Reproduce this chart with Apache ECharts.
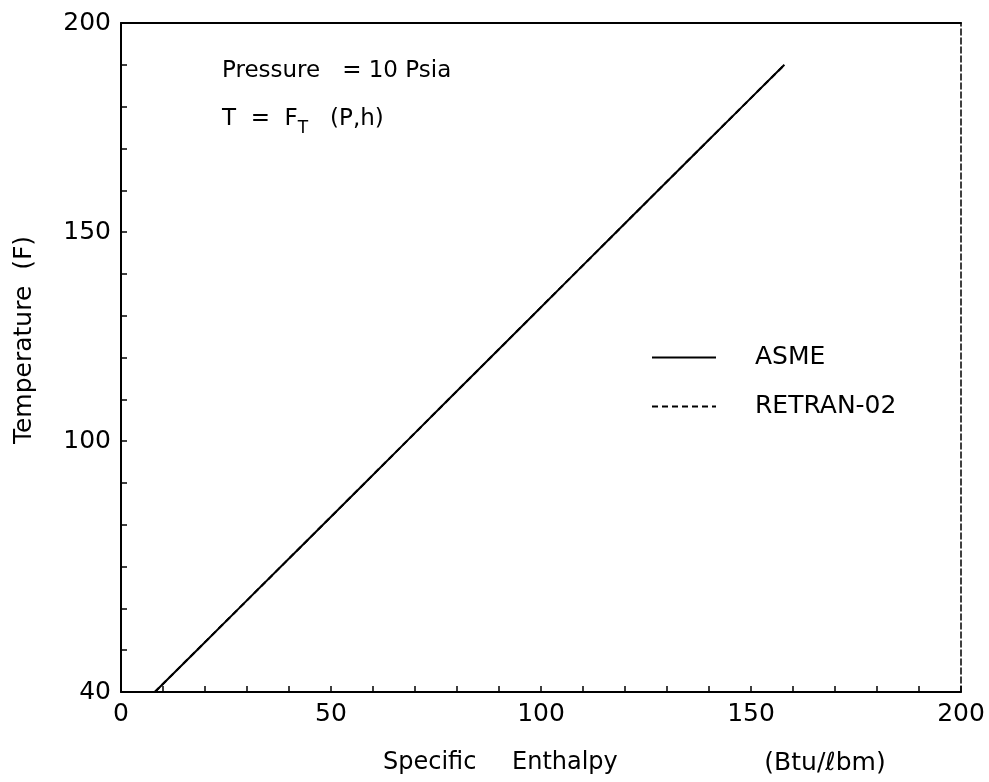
<!DOCTYPE html>
<html>
<head>
<meta charset="utf-8">
<script src="https://cdn.jsdelivr.net/npm/echarts@6/dist/echarts.min.js"></script>
<style>
html,body{margin:0;padding:0;background:#fff;}
#chart{width:989px;height:782px;}
</style>
</head>
<body>
<div id="chart"></div>
<script>
// Specific enthalpy (Btu/lbm) and temperature (F) at 10 psia
const enthalpyASME = [8.05, 18.07, 28.08, 38.09, 48.09, 58.07, 68.05, 78.02, 88.00, 97.97, 107.95, 117.95, 127.91, 137.90, 147.92, 157.95];
const tempASME     = [40, 50, 60, 70, 80, 90, 100, 110, 120, 130, 140, 150, 160, 170, 180, 190];
const enthalpyRETRAN = [8.05, 18.07, 28.08, 38.09, 48.09, 58.07, 68.05, 78.02, 88.00, 97.97, 107.95, 117.95, 127.91, 137.90, 147.92, 157.95];
const tempRETRAN     = [40, 50, 60, 70, 80, 90, 100, 110, 120, 130, 140, 150, 160, 170, 180, 190];
const xTickLabels = [0, 50, 100, 150, 200];
const yTickLabels = [40, 100, 150, 200];
const seriesNames = ['ASME', 'RETRAN-02'];

const FONT = 'DejaVu Sans';
const chart = echarts.init(document.getElementById('chart'), null, {renderer: 'canvas'});
const zip = (a, b) => a.map((v, i) => [v, b[i]]);

chart.setOption({
  backgroundColor: '#fff',
  animation: false,
  grid: {left: 121, right: 28, top: 23, bottom: 90, containLabel: false},
  legend: {
    orient: 'vertical',
    left: 646, top: 340,
    itemWidth: 64, itemHeight: 14, itemGap: 24,
    data: seriesNames,
    itemStyle: {opacity: 0},
    textStyle: {fontFamily: FONT, fontSize: 25, color: '#000', padding: [0, 0, 0, 34]}
  },
  xAxis: [{
    type: 'value', min: 0, max: 200, interval: 10,
    axisLine: {show: true, onZero: false, lineStyle: {color: '#000', width: 2}},
    axisTick: {show: true, inside: true, length: 6, lineStyle: {color: '#000', width: 1.5}},
    axisLabel: {
      margin: 10, color: '#000', fontFamily: FONT, fontSize: 25,
      formatter: v => xTickLabels.includes(v) ? String(v) : ''
    },
    splitLine: {show: false}
  }, {
    type: 'value', min: 0, max: 200, position: 'top',
    axisLine: {show: true, onZero: false, lineStyle: {color: '#000', width: 2}},
    axisTick: {show: false}, axisLabel: {show: false}, splitLine: {show: false}
  }],
  yAxis: [{
    type: 'value', min: 40, max: 200, interval: 10,
    axisLine: {show: true, onZero: false, lineStyle: {color: '#000', width: 2}},
    axisTick: {show: true, inside: true, length: 6, lineStyle: {color: '#000', width: 1.5}},
    axisLabel: {
      margin: 10, color: '#000', fontFamily: FONT, fontSize: 25,
      formatter: v => yTickLabels.includes(v) ? String(v) : ''
    },
    splitLine: {show: false}
  }, {
    type: 'value', min: 40, max: 200, position: 'right',
    axisLine: {show: true, onZero: false, lineStyle: {color: '#000', width: 1.5, type: [6, 3]}},
    axisTick: {show: false}, axisLabel: {show: false}, splitLine: {show: false}
  }],
  series: [{
    name: 'RETRAN-02', type: 'line', symbol: 'none', z: 2,
    data: zip(enthalpyRETRAN, tempRETRAN),
    lineStyle: {color: '#000', width: 2, type: [6, 4]},
    itemStyle: {color: '#000'}
  }, {
    name: 'ASME', type: 'line', symbol: 'none', z: 3,
    data: zip(enthalpyASME, tempASME),
    lineStyle: {color: '#000', width: 2, type: 'solid'},
    itemStyle: {color: '#000'}
  }],
  graphic: [{
    type: 'text', left: 222, top: 60,
    style: {text: 'Pressure   = 10 Psia', fontFamily: FONT, fontSize: 23, fill: '#000'}
  }, {
    type: 'text', left: 222, top: 108,
    style: {
      text: 'T  =  F{s|T}   (P,h)', fontFamily: FONT, fontSize: 23, fill: '#000',
      rich: {s: {fontFamily: FONT, fontSize: 17, padding: [18, 0, 0, 0], fill: '#000'}}
    }
  }, {
    type: 'text', x: 383, y: 763,
    style: {text: 'Specific', fontFamily: FONT, fontSize: 24, fill: '#000', align: 'left', verticalAlign: 'middle'}
  }, {
    type: 'text', x: 512, y: 763,
    style: {text: 'Enthalpy', fontFamily: FONT, fontSize: 24, fill: '#000', align: 'left', verticalAlign: 'middle'}
  }, {
    type: 'text', x: 825, y: 763,
    style: {text: '(Btu/ℓbm)', fontFamily: FONT, fontSize: 25, fill: '#000', align: 'center', verticalAlign: 'middle'}
  }, {
    type: 'text', x: 24, y: 340, rotation: Math.PI / 2,
    style: {
      text: 'Temperature  (F)', fontFamily: FONT, fontSize: 25, fill: '#000',
      align: 'center', verticalAlign: 'middle'
    }
  }]
});
</script>
</body>
</html>
